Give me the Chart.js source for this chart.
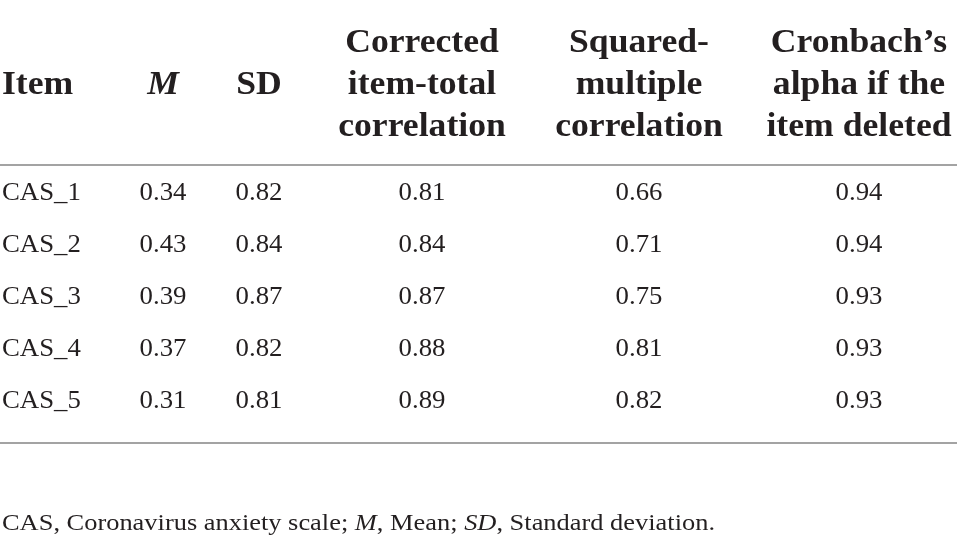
<!DOCTYPE html>
<html>
<head>
<meta charset="utf-8">
<script src="https://cdn.jsdelivr.net/npm/chart.js@4.4.0/dist/chart.umd.min.js"></script>
<style>
  html, body { margin: 0; padding: 0; background: #fff; }
  #wrap { width: 957px; height: 546px; position: relative; }
</style>
</head>
<body>
<div id="wrap"><canvas id="tableChart"></canvas></div>
<script>
// table values
var items = ['CAS_1', 'CAS_2', 'CAS_3', 'CAS_4', 'CAS_5'];
var means = [0.34, 0.43, 0.39, 0.37, 0.31];
var sds = [0.82, 0.84, 0.87, 0.82, 0.81];
var itemTotal = [0.81, 0.84, 0.87, 0.88, 0.89];
var squaredMultiple = [0.66, 0.71, 0.75, 0.81, 0.82];
var alphaIfDeleted = [0.94, 0.94, 0.93, 0.93, 0.93];

var headers = [
	['Item'],
	['M'],
	['SD'],
	['Corrected', 'item-total', 'correlation'],
	['Squared-', 'multiple', 'correlation'],
	['Cronbach\u2019s', 'alpha if the', 'item deleted']
];
var footnote = [
	['CAS, Coronavirus anxiety scale; ', false],
	['M', true],
	[', Mean; ', false],
	['SD', true],
	[', Standard deviation.', false]
];

// layout (x in px, y in row units)
var colX = [2, 163, 259, 422, 639, 859];
var colAlign = ['left', 'center', 'center', 'center', 'center', 'center'];
var headerRowY = [-2.846, -2.038, -1.231];
var ruleY = [-0.673, 4.673];
var footY = 6.346;
var footWidth = 713;

var SERIF = '"Liberation Serif", "Times New Roman", serif';
var INK = '#231f20';

var columns = [items, means, sds, itemTotal, squaredMultiple, alphaIfDeleted];

var datasets = columns.map(function(col, c){
	return {
		label: c === 0 ? 'Item' : headers[c].join(' '),
		data: col.map(function(v, r){ return {x: colX[c], y: r, text: c === 0 ? v : v.toFixed(2)}; }),
		pointRadius: 0,
		showLine: false
	};
});

// text squeezed/stretched horizontally to get closer to the original face
function drawText(ctx, text, x, y, align, sx)
{
	ctx.save();
	ctx.translate(x, y);
	ctx.scale(sx, 1);
	ctx.textAlign = align;
	ctx.fillText(text, 0, 0);
	ctx.restore();
}

var tablePlugin = {
	id: 'tableText',
	afterDatasetsDraw: function(chart){
		var ctx = chart.ctx;
		var xs = chart.scales.x, ys = chart.scales.y;
		ctx.save();
		ctx.fillStyle = INK;
		ctx.textBaseline = 'alphabetic';

		// headers
		headers.forEach(function(lines, c){
			var start = lines.length === 1 ? 1 : headerRowY.length - lines.length;
			ctx.font = (c === 1 ? 'italic ' : '') + 'bold 33px ' + SERIF;
			lines.forEach(function(t, i){
				drawText(ctx, t, xs.getPixelForValue(colX[c]), ys.getPixelForValue(headerRowY[start + i]), colAlign[c], 1.08);
			});
		});

		// rules
		ctx.strokeStyle = '#a3a3a3';
		ctx.lineWidth = 2;
		ruleY.forEach(function(v){
			var py = ys.getPixelForValue(v);
			ctx.beginPath();
			ctx.moveTo(xs.left, py);
			ctx.lineTo(xs.right, py);
			ctx.stroke();
		});

		// cells
		ctx.font = '26px ' + SERIF;
		chart.data.datasets.forEach(function(ds, c){
			var meta = chart.getDatasetMeta(c);
			meta.data.forEach(function(pt, r){
				drawText(ctx, ds.data[r].text, pt.x, pt.y, colAlign[c], 1.03);
			});
		});

		// footnote, fitted to the original line length
		var total = 0;
		footnote.forEach(function(run){
			ctx.font = (run[1] ? 'italic ' : '') + '23px ' + SERIF;
			total += ctx.measureText(run[0]).width;
		});
		var sx = footWidth / total;
		var fx = xs.getPixelForValue(colX[0]);
		var fy = ys.getPixelForValue(footY);
		footnote.forEach(function(run){
			ctx.font = (run[1] ? 'italic ' : '') + '23px ' + SERIF;
			drawText(ctx, run[0], fx, fy, 'left', sx);
			fx += ctx.measureText(run[0]).width * sx;
		});
		ctx.restore();
	}
};

var ctx = document.getElementById('tableChart').getContext('2d');
var tableChart = new Chart(ctx, {
	type: 'scatter',
	data: { datasets: datasets },
	options: {
		responsive: true,
		maintainAspectRatio: false,
		animation: false,
		layout: { padding: 0 },
		plugins: { legend: { display: false }, tooltip: { enabled: false } },
		scales: {
			x: { type: 'linear', display: false, min: 0, max: 957 },
			y: { type: 'linear', display: false, reverse: true, min: -3.846, max: 6.654 }
		}
	},
	plugins: [tablePlugin]
});
</script>
</body>
</html>
